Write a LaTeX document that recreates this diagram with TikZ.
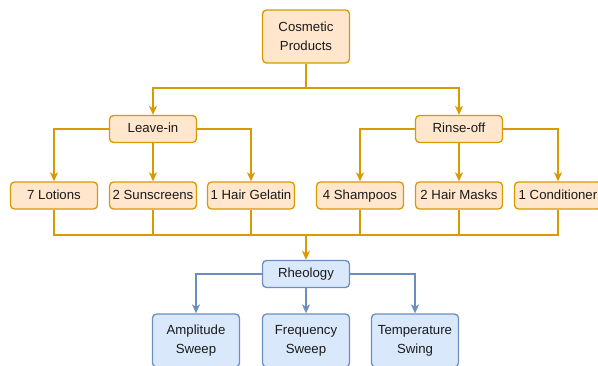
\documentclass[tikz,border=0pt]{standalone}
\usepackage{fontspec}
\setmainfont{Liberation Sans}
\usetikzlibrary{arrows.meta}
\definecolor{ofill}{HTML}{FFE6CC}
\definecolor{oline}{HTML}{D79B00}
\definecolor{bfill}{HTML}{DAE8FC}
\definecolor{bline}{HTML}{6C8EBF}
\definecolor{ink}{HTML}{1A1A1A}
\tikzset{
  obox/.style={draw=oline,fill=ofill,rounded corners=4pt,line width=1.3pt,
    minimum width=87pt,minimum height=27pt,inner sep=0pt,align=center,
    text=ink,text height=9.5pt,text depth=2pt,font=\fontsize{13.2}{19}\selectfont},
  bbox/.style={obox,draw=bline,fill=bfill},
  twoline/.style={minimum height=53pt,text height={},text depth={}},
  oconn/.style={draw=oline,line width=1.6pt},
  bconn/.style={draw=bline,line width=1.6pt},
  tip/.style={-{Stealth[length=9pt,width=8pt,inset=2.5pt]}}
}
\begin{document}
\begin{tikzpicture}[x=1pt,y=-1pt]
\useasboundingbox (0,0) rectangle (598,365);
\node[obox,twoline] (cp) at (306,36.5) {Cosmetic\\Products};
\node[obox] (leave) at (153,129) {Leave-in};
\node[obox] (rinse) at (459,129) {Rinse-off};
\foreach \name/\x/\txt in {lot/54/7 Lotions, sun/153/2 Sunscreens, gel/251/1 Hair Gelatin,
  shp/360/4 Shampoos, msk/459/2 Hair Masks, cnd/558/1 Conditioner} % edit here for the products
\node[obox] (\name) at (\x,195.5) {\txt};
\node[bbox] (rheo) at (306,274) {Rheology};
\foreach \name/\x/\txt in {amp/196/Amplitude\\Sweep, frq/306/Frequency\\Sweep, tmp/415/Temperature\\Swing} % edit here for the tests
\node[bbox,twoline] (\name) at (\x,340.5) {\txt};
\coordinate (split) at (306,88);
\coordinate (merge) at (306,235);
\draw[oconn] (cp) -- (split);
\draw[oconn,tip] (split) -| (leave);
\draw[oconn,tip] (split) -| (rinse);
\draw[oconn,tip] (leave) -| (lot);
\draw[oconn,tip] (leave) -- (sun);
\draw[oconn,tip] (leave) -| (gel);
\draw[oconn,tip] (rinse) -| (shp);
\draw[oconn,tip] (rinse) -- (msk);
\draw[oconn,tip] (rinse) -| (cnd);
\foreach \n in {lot,sun,gel,shp,msk,cnd} % edit here for the joins
\draw[oconn] (\n) |- (merge);
\draw[oconn,tip] (merge) -- (rheo);
\draw[bconn,tip] (rheo) -| (amp);
\draw[bconn,tip] (rheo) -- (frq);
\draw[bconn,tip] (rheo) -| (tmp);
\end{tikzpicture}
\end{document}
